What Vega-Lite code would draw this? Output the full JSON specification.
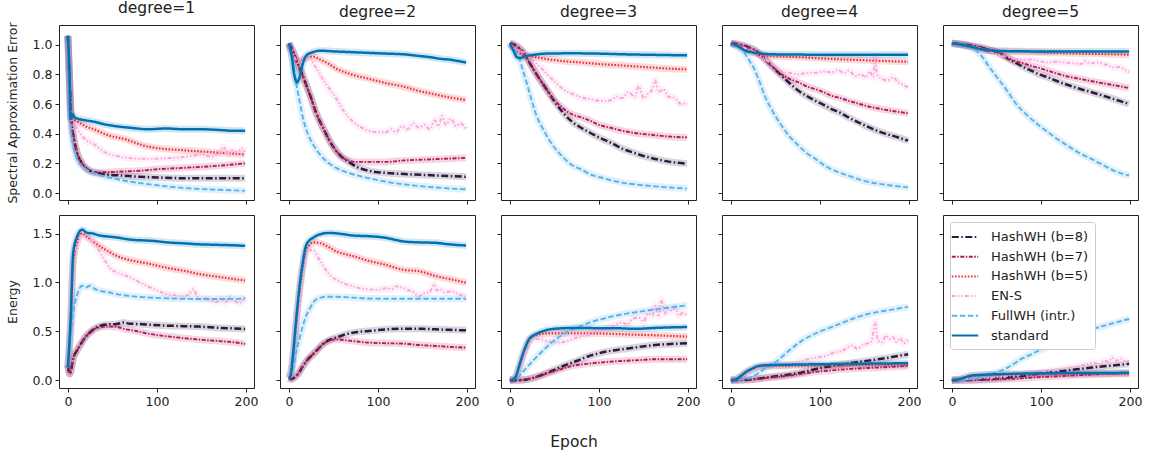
{
"$schema":"https://vega.github.io/schema/vega-lite/v6.json",
"padding":{"left":5,"top":0,"right":2,"bottom":5},
"background":"white",
"title":{"text":"Epoch","orient":"bottom","anchor":"middle","fontSize":15.5,"offset":27,"fontWeight":"normal","color":"#222"},
"datasets":{"d":[
{"p":"a1","s":"b8","e":0,"v":1.06},{"p":"a1","s":"b8","e":2,"v":0.75},{"p":"a1","s":"b8","e":4,"v":0.5},{"p":"a1","s":"b8","e":7,"v":0.36},{"p":"a1","s":"b8","e":11,"v":0.26},{"p":"a1","s":"b8","e":16,"v":0.2},{"p":"a1","s":"b8","e":21,"v":0.165},{"p":"a1","s":"b8","e":30,"v":0.14},{"p":"a1","s":"b8","e":40,"v":0.128},{"p":"a1","s":"b8","e":60,"v":0.118},{"p":"a1","s":"b8","e":80,"v":0.11},{"p":"a1","s":"b8","e":100,"v":0.105},{"p":"a1","s":"b8","e":130,"v":0.1},{"p":"a1","s":"b8","e":160,"v":0.1},{"p":"a1","s":"b8","e":199,"v":0.1},
{"p":"a1","s":"b7","e":0,"v":1.06},{"p":"a1","s":"b7","e":2,"v":0.75},{"p":"a1","s":"b7","e":4,"v":0.5},{"p":"a1","s":"b7","e":7,"v":0.36},{"p":"a1","s":"b7","e":11,"v":0.26},{"p":"a1","s":"b7","e":16,"v":0.2},{"p":"a1","s":"b7","e":21,"v":0.165},{"p":"a1","s":"b7","e":30,"v":0.14},{"p":"a1","s":"b7","e":40,"v":0.14},{"p":"a1","s":"b7","e":60,"v":0.145},{"p":"a1","s":"b7","e":80,"v":0.15},{"p":"a1","s":"b7","e":100,"v":0.16},{"p":"a1","s":"b7","e":130,"v":0.17},{"p":"a1","s":"b7","e":160,"v":0.18},{"p":"a1","s":"b7","e":199,"v":0.2},
{"p":"a1","s":"b5","e":0,"v":1.06},{"p":"a1","s":"b5","e":2,"v":0.7},{"p":"a1","s":"b5","e":4,"v":0.5},{"p":"a1","s":"b5","e":8,"v":0.49},{"p":"a1","s":"b5","e":14,"v":0.47},{"p":"a1","s":"b5","e":20,"v":0.45},{"p":"a1","s":"b5","e":29,"v":0.43},{"p":"a1","s":"b5","e":45,"v":0.39},{"p":"a1","s":"b5","e":66,"v":0.36},{"p":"a1","s":"b5","e":85,"v":0.32},{"p":"a1","s":"b5","e":104,"v":0.3},{"p":"a1","s":"b5","e":126,"v":0.29},{"p":"a1","s":"b5","e":150,"v":0.28},{"p":"a1","s":"b5","e":175,"v":0.27},{"p":"a1","s":"b5","e":199,"v":0.26},
{"p":"a1","s":"en","e":0,"v":1.06},{"p":"a1","s":"en","e":2,"v":0.7},{"p":"a1","s":"en","e":4,"v":0.5},{"p":"a1","s":"en","e":8,"v":0.46},{"p":"a1","s":"en","e":14,"v":0.4},{"p":"a1","s":"en","e":20,"v":0.36},{"p":"a1","s":"en","e":29,"v":0.33},{"p":"a1","s":"en","e":40,"v":0.28},{"p":"a1","s":"en","e":55,"v":0.25},{"p":"a1","s":"en","e":70,"v":0.235},{"p":"a1","s":"en","e":90,"v":0.23},{"p":"a1","s":"en","e":110,"v":0.235},{"p":"a1","s":"en","e":125,"v":0.24},{"p":"a1","s":"en","e":140,"v":0.25},{"p":"a1","s":"en","e":150,"v":0.26},{"p":"a1","s":"en","e":160,"v":0.245},{"p":"a1","s":"en","e":170,"v":0.27},{"p":"a1","s":"en","e":175,"v":0.31},{"p":"a1","s":"en","e":180,"v":0.26},{"p":"a1","s":"en","e":185,"v":0.29},{"p":"a1","s":"en","e":190,"v":0.27},{"p":"a1","s":"en","e":195,"v":0.3},{"p":"a1","s":"en","e":199,"v":0.28},
{"p":"a1","s":"fw","e":0,"v":1.06},{"p":"a1","s":"fw","e":2,"v":0.6},{"p":"a1","s":"fw","e":4,"v":0.4},{"p":"a1","s":"fw","e":6,"v":0.32},{"p":"a1","s":"fw","e":9,"v":0.25},{"p":"a1","s":"fw","e":13,"v":0.2},{"p":"a1","s":"fw","e":18,"v":0.17},{"p":"a1","s":"fw","e":25,"v":0.145},{"p":"a1","s":"fw","e":36,"v":0.12},{"p":"a1","s":"fw","e":50,"v":0.1},{"p":"a1","s":"fw","e":73,"v":0.074},{"p":"a1","s":"fw","e":90,"v":0.06},{"p":"a1","s":"fw","e":111,"v":0.045},{"p":"a1","s":"fw","e":140,"v":0.03},{"p":"a1","s":"fw","e":170,"v":0.022},{"p":"a1","s":"fw","e":199,"v":0.015},
{"p":"a1","s":"st","e":0,"v":1.06},{"p":"a1","s":"st","e":2,"v":0.75},{"p":"a1","s":"st","e":3,"v":0.5},{"p":"a1","s":"st","e":5,"v":0.53},{"p":"a1","s":"st","e":8,"v":0.51},{"p":"a1","s":"st","e":12,"v":0.5},{"p":"a1","s":"st","e":20,"v":0.49},{"p":"a1","s":"st","e":30,"v":0.48},{"p":"a1","s":"st","e":40,"v":0.465},{"p":"a1","s":"st","e":55,"v":0.45},{"p":"a1","s":"st","e":70,"v":0.44},{"p":"a1","s":"st","e":90,"v":0.43},{"p":"a1","s":"st","e":110,"v":0.435},{"p":"a1","s":"st","e":130,"v":0.43},{"p":"a1","s":"st","e":150,"v":0.43},{"p":"a1","s":"st","e":170,"v":0.425},{"p":"a1","s":"st","e":185,"v":0.42},{"p":"a1","s":"st","e":199,"v":0.42},

{"p":"a2","s":"b8","e":0,"v":1.01},{"p":"a2","s":"b8","e":5,"v":0.95},{"p":"a2","s":"b8","e":10,"v":0.87},{"p":"a2","s":"b8","e":15,"v":0.8},{"p":"a2","s":"b8","e":20,"v":0.72},{"p":"a2","s":"b8","e":25,"v":0.64},{"p":"a2","s":"b8","e":30,"v":0.55},{"p":"a2","s":"b8","e":35,"v":0.48},{"p":"a2","s":"b8","e":40,"v":0.42},{"p":"a2","s":"b8","e":45,"v":0.36},{"p":"a2","s":"b8","e":50,"v":0.31},{"p":"a2","s":"b8","e":55,"v":0.27},{"p":"a2","s":"b8","e":60,"v":0.24},{"p":"a2","s":"b8","e":67,"v":0.21},{"p":"a2","s":"b8","e":75,"v":0.18},{"p":"a2","s":"b8","e":90,"v":0.15},{"p":"a2","s":"b8","e":110,"v":0.135},{"p":"a2","s":"b8","e":130,"v":0.128},{"p":"a2","s":"b8","e":160,"v":0.12},{"p":"a2","s":"b8","e":199,"v":0.11},
{"p":"a2","s":"b7","e":0,"v":1.01},{"p":"a2","s":"b7","e":5,"v":0.95},{"p":"a2","s":"b7","e":10,"v":0.87},{"p":"a2","s":"b7","e":15,"v":0.8},{"p":"a2","s":"b7","e":20,"v":0.72},{"p":"a2","s":"b7","e":25,"v":0.64},{"p":"a2","s":"b7","e":30,"v":0.55},{"p":"a2","s":"b7","e":35,"v":0.48},{"p":"a2","s":"b7","e":40,"v":0.42},{"p":"a2","s":"b7","e":45,"v":0.36},{"p":"a2","s":"b7","e":50,"v":0.31},{"p":"a2","s":"b7","e":55,"v":0.27},{"p":"a2","s":"b7","e":60,"v":0.24},{"p":"a2","s":"b7","e":67,"v":0.22},{"p":"a2","s":"b7","e":75,"v":0.21},{"p":"a2","s":"b7","e":90,"v":0.21},{"p":"a2","s":"b7","e":110,"v":0.21},{"p":"a2","s":"b7","e":130,"v":0.22},{"p":"a2","s":"b7","e":150,"v":0.225},{"p":"a2","s":"b7","e":170,"v":0.23},{"p":"a2","s":"b7","e":199,"v":0.237},
{"p":"a2","s":"b5","e":0,"v":1.0},{"p":"a2","s":"b5","e":5,"v":0.93},{"p":"a2","s":"b5","e":10,"v":0.89},{"p":"a2","s":"b5","e":15,"v":0.9},{"p":"a2","s":"b5","e":20,"v":0.91},{"p":"a2","s":"b5","e":27,"v":0.92},{"p":"a2","s":"b5","e":35,"v":0.9},{"p":"a2","s":"b5","e":45,"v":0.87},{"p":"a2","s":"b5","e":53,"v":0.84},{"p":"a2","s":"b5","e":70,"v":0.8},{"p":"a2","s":"b5","e":90,"v":0.77},{"p":"a2","s":"b5","e":110,"v":0.74},{"p":"a2","s":"b5","e":127,"v":0.72},{"p":"a2","s":"b5","e":145,"v":0.69},{"p":"a2","s":"b5","e":164,"v":0.665},{"p":"a2","s":"b5","e":180,"v":0.645},{"p":"a2","s":"b5","e":199,"v":0.627},
{"p":"a2","s":"en","e":0,"v":1.0},{"p":"a2","s":"en","e":5,"v":0.93},{"p":"a2","s":"en","e":10,"v":0.89},{"p":"a2","s":"en","e":15,"v":0.9},{"p":"a2","s":"en","e":22,"v":0.91},{"p":"a2","s":"en","e":30,"v":0.85},{"p":"a2","s":"en","e":40,"v":0.75},{"p":"a2","s":"en","e":53,"v":0.64},{"p":"a2","s":"en","e":62,"v":0.55},{"p":"a2","s":"en","e":72,"v":0.48},{"p":"a2","s":"en","e":82,"v":0.44},{"p":"a2","s":"en","e":90,"v":0.42},{"p":"a2","s":"en","e":100,"v":0.41},{"p":"a2","s":"en","e":109,"v":0.41},{"p":"a2","s":"en","e":115,"v":0.43},{"p":"a2","s":"en","e":120,"v":0.41},{"p":"a2","s":"en","e":127,"v":0.45},{"p":"a2","s":"en","e":133,"v":0.43},{"p":"a2","s":"en","e":140,"v":0.47},{"p":"a2","s":"en","e":146,"v":0.44},{"p":"a2","s":"en","e":152,"v":0.46},{"p":"a2","s":"en","e":158,"v":0.43},{"p":"a2","s":"en","e":164,"v":0.49},{"p":"a2","s":"en","e":168,"v":0.45},{"p":"a2","s":"en","e":172,"v":0.52},{"p":"a2","s":"en","e":176,"v":0.46},{"p":"a2","s":"en","e":182,"v":0.5},{"p":"a2","s":"en","e":188,"v":0.45},{"p":"a2","s":"en","e":192,"v":0.47},{"p":"a2","s":"en","e":199,"v":0.43},
{"p":"a2","s":"fw","e":0,"v":1.01},{"p":"a2","s":"fw","e":3,"v":0.93},{"p":"a2","s":"fw","e":5,"v":0.87},{"p":"a2","s":"fw","e":8,"v":0.75},{"p":"a2","s":"fw","e":12,"v":0.62},{"p":"a2","s":"fw","e":16,"v":0.5},{"p":"a2","s":"fw","e":20,"v":0.42},{"p":"a2","s":"fw","e":27,"v":0.33},{"p":"a2","s":"fw","e":35,"v":0.26},{"p":"a2","s":"fw","e":45,"v":0.2},{"p":"a2","s":"fw","e":53,"v":0.17},{"p":"a2","s":"fw","e":70,"v":0.13},{"p":"a2","s":"fw","e":90,"v":0.1},{"p":"a2","s":"fw","e":110,"v":0.075},{"p":"a2","s":"fw","e":127,"v":0.06},{"p":"a2","s":"fw","e":150,"v":0.045},{"p":"a2","s":"fw","e":175,"v":0.033},{"p":"a2","s":"fw","e":199,"v":0.025},
{"p":"a2","s":"st","e":0,"v":1.01},{"p":"a2","s":"st","e":3,"v":0.93},{"p":"a2","s":"st","e":6,"v":0.8},{"p":"a2","s":"st","e":9,"v":0.746},{"p":"a2","s":"st","e":12,"v":0.78},{"p":"a2","s":"st","e":16,"v":0.88},{"p":"a2","s":"st","e":20,"v":0.93},{"p":"a2","s":"st","e":27,"v":0.95},{"p":"a2","s":"st","e":35,"v":0.96},{"p":"a2","s":"st","e":50,"v":0.955},{"p":"a2","s":"st","e":70,"v":0.95},{"p":"a2","s":"st","e":90,"v":0.945},{"p":"a2","s":"st","e":110,"v":0.94},{"p":"a2","s":"st","e":130,"v":0.935},{"p":"a2","s":"st","e":145,"v":0.925},{"p":"a2","s":"st","e":160,"v":0.915},{"p":"a2","s":"st","e":170,"v":0.905},{"p":"a2","s":"st","e":180,"v":0.9},{"p":"a2","s":"st","e":190,"v":0.89},{"p":"a2","s":"st","e":199,"v":0.88},

{"p":"a3","s":"b8","e":0,"v":1.01},{"p":"a3","s":"b8","e":5,"v":1.0},{"p":"a3","s":"b8","e":10,"v":0.98},{"p":"a3","s":"b8","e":15,"v":0.95},{"p":"a3","s":"b8","e":20,"v":0.9},{"p":"a3","s":"b8","e":30,"v":0.8},{"p":"a3","s":"b8","e":40,"v":0.71},{"p":"a3","s":"b8","e":51,"v":0.61},{"p":"a3","s":"b8","e":60,"v":0.54},{"p":"a3","s":"b8","e":70,"v":0.48},{"p":"a3","s":"b8","e":80,"v":0.44},{"p":"a3","s":"b8","e":89,"v":0.41},{"p":"a3","s":"b8","e":100,"v":0.375},{"p":"a3","s":"b8","e":113,"v":0.34},{"p":"a3","s":"b8","e":126,"v":0.3},{"p":"a3","s":"b8","e":140,"v":0.27},{"p":"a3","s":"b8","e":150,"v":0.25},{"p":"a3","s":"b8","e":163,"v":0.23},{"p":"a3","s":"b8","e":180,"v":0.21},{"p":"a3","s":"b8","e":199,"v":0.198},
{"p":"a3","s":"b7","e":0,"v":1.01},{"p":"a3","s":"b7","e":5,"v":1.0},{"p":"a3","s":"b7","e":10,"v":0.98},{"p":"a3","s":"b7","e":15,"v":0.95},{"p":"a3","s":"b7","e":20,"v":0.9},{"p":"a3","s":"b7","e":30,"v":0.8},{"p":"a3","s":"b7","e":40,"v":0.71},{"p":"a3","s":"b7","e":51,"v":0.62},{"p":"a3","s":"b7","e":60,"v":0.57},{"p":"a3","s":"b7","e":70,"v":0.53},{"p":"a3","s":"b7","e":80,"v":0.51},{"p":"a3","s":"b7","e":89,"v":0.49},{"p":"a3","s":"b7","e":100,"v":0.46},{"p":"a3","s":"b7","e":113,"v":0.44},{"p":"a3","s":"b7","e":126,"v":0.42},{"p":"a3","s":"b7","e":140,"v":0.405},{"p":"a3","s":"b7","e":163,"v":0.39},{"p":"a3","s":"b7","e":180,"v":0.38},{"p":"a3","s":"b7","e":199,"v":0.375},
{"p":"a3","s":"b5","e":0,"v":1.0},{"p":"a3","s":"b5","e":5,"v":0.98},{"p":"a3","s":"b5","e":10,"v":0.95},{"p":"a3","s":"b5","e":15,"v":0.93},{"p":"a3","s":"b5","e":25,"v":0.92},{"p":"a3","s":"b5","e":40,"v":0.905},{"p":"a3","s":"b5","e":59,"v":0.89},{"p":"a3","s":"b5","e":80,"v":0.88},{"p":"a3","s":"b5","e":100,"v":0.87},{"p":"a3","s":"b5","e":126,"v":0.86},{"p":"a3","s":"b5","e":150,"v":0.85},{"p":"a3","s":"b5","e":175,"v":0.84},{"p":"a3","s":"b5","e":199,"v":0.834},
{"p":"a3","s":"en","e":0,"v":1.0},{"p":"a3","s":"en","e":5,"v":0.98},{"p":"a3","s":"en","e":10,"v":0.96},{"p":"a3","s":"en","e":15,"v":0.95},{"p":"a3","s":"en","e":25,"v":0.9},{"p":"a3","s":"en","e":36,"v":0.836},{"p":"a3","s":"en","e":45,"v":0.78},{"p":"a3","s":"en","e":51,"v":0.747},{"p":"a3","s":"en","e":60,"v":0.7},{"p":"a3","s":"en","e":70,"v":0.668},{"p":"a3","s":"en","e":80,"v":0.645},{"p":"a3","s":"en","e":89,"v":0.634},{"p":"a3","s":"en","e":100,"v":0.622},{"p":"a3","s":"en","e":107,"v":0.62},{"p":"a3","s":"en","e":115,"v":0.63},{"p":"a3","s":"en","e":120,"v":0.65},{"p":"a3","s":"en","e":126,"v":0.64},{"p":"a3","s":"en","e":133,"v":0.68},{"p":"a3","s":"en","e":140,"v":0.65},{"p":"a3","s":"en","e":145,"v":0.72},{"p":"a3","s":"en","e":150,"v":0.64},{"p":"a3","s":"en","e":155,"v":0.67},{"p":"a3","s":"en","e":160,"v":0.7},{"p":"a3","s":"en","e":163,"v":0.76},{"p":"a3","s":"en","e":167,"v":0.68},{"p":"a3","s":"en","e":172,"v":0.7},{"p":"a3","s":"en","e":178,"v":0.65},{"p":"a3","s":"en","e":185,"v":0.64},{"p":"a3","s":"en","e":192,"v":0.6},{"p":"a3","s":"en","e":199,"v":0.61},
{"p":"a3","s":"fw","e":0,"v":1.01},{"p":"a3","s":"fw","e":5,"v":0.97},{"p":"a3","s":"fw","e":10,"v":0.92},{"p":"a3","s":"fw","e":15,"v":0.82},{"p":"a3","s":"fw","e":20,"v":0.72},{"p":"a3","s":"fw","e":25,"v":0.613},{"p":"a3","s":"fw","e":30,"v":0.52},{"p":"a3","s":"fw","e":37,"v":0.434},{"p":"a3","s":"fw","e":44,"v":0.36},{"p":"a3","s":"fw","e":51,"v":0.3},{"p":"a3","s":"fw","e":60,"v":0.24},{"p":"a3","s":"fw","e":70,"v":0.187},{"p":"a3","s":"fw","e":80,"v":0.16},{"p":"a3","s":"fw","e":89,"v":0.13},{"p":"a3","s":"fw","e":105,"v":0.1},{"p":"a3","s":"fw","e":126,"v":0.07},{"p":"a3","s":"fw","e":145,"v":0.055},{"p":"a3","s":"fw","e":163,"v":0.045},{"p":"a3","s":"fw","e":180,"v":0.037},{"p":"a3","s":"fw","e":199,"v":0.03},
{"p":"a3","s":"st","e":0,"v":1.01},{"p":"a3","s":"st","e":4,"v":0.96},{"p":"a3","s":"st","e":8,"v":0.915},{"p":"a3","s":"st","e":12,"v":0.91},{"p":"a3","s":"st","e":16,"v":0.92},{"p":"a3","s":"st","e":25,"v":0.93},{"p":"a3","s":"st","e":40,"v":0.94},{"p":"a3","s":"st","e":70,"v":0.942},{"p":"a3","s":"st","e":100,"v":0.94},{"p":"a3","s":"st","e":130,"v":0.935},{"p":"a3","s":"st","e":160,"v":0.932},{"p":"a3","s":"st","e":180,"v":0.93},{"p":"a3","s":"st","e":199,"v":0.928},

{"p":"a4","s":"b8","e":0,"v":1.01},{"p":"a4","s":"b8","e":10,"v":1.0},{"p":"a4","s":"b8","e":20,"v":0.982},{"p":"a4","s":"b8","e":30,"v":0.95},{"p":"a4","s":"b8","e":38,"v":0.903},{"p":"a4","s":"b8","e":47,"v":0.85},{"p":"a4","s":"b8","e":57,"v":0.791},{"p":"a4","s":"b8","e":66,"v":0.74},{"p":"a4","s":"b8","e":76,"v":0.69},{"p":"a4","s":"b8","e":85,"v":0.655},{"p":"a4","s":"b8","e":95,"v":0.622},{"p":"a4","s":"b8","e":104,"v":0.595},{"p":"a4","s":"b8","e":113,"v":0.566},{"p":"a4","s":"b8","e":123,"v":0.54},{"p":"a4","s":"b8","e":132,"v":0.51},{"p":"a4","s":"b8","e":142,"v":0.48},{"p":"a4","s":"b8","e":151,"v":0.454},{"p":"a4","s":"b8","e":160,"v":0.43},{"p":"a4","s":"b8","e":169,"v":0.409},{"p":"a4","s":"b8","e":185,"v":0.38},{"p":"a4","s":"b8","e":199,"v":0.353},
{"p":"a4","s":"b7","e":0,"v":1.01},{"p":"a4","s":"b7","e":10,"v":1.0},{"p":"a4","s":"b7","e":20,"v":0.982},{"p":"a4","s":"b7","e":30,"v":0.95},{"p":"a4","s":"b7","e":38,"v":0.903},{"p":"a4","s":"b7","e":47,"v":0.85},{"p":"a4","s":"b7","e":57,"v":0.8},{"p":"a4","s":"b7","e":66,"v":0.77},{"p":"a4","s":"b7","e":76,"v":0.746},{"p":"a4","s":"b7","e":85,"v":0.72},{"p":"a4","s":"b7","e":95,"v":0.7},{"p":"a4","s":"b7","e":104,"v":0.68},{"p":"a4","s":"b7","e":113,"v":0.656},{"p":"a4","s":"b7","e":123,"v":0.64},{"p":"a4","s":"b7","e":132,"v":0.622},{"p":"a4","s":"b7","e":142,"v":0.605},{"p":"a4","s":"b7","e":151,"v":0.589},{"p":"a4","s":"b7","e":169,"v":0.566},{"p":"a4","s":"b7","e":185,"v":0.55},{"p":"a4","s":"b7","e":199,"v":0.537},
{"p":"a4","s":"b5","e":0,"v":1.01},{"p":"a4","s":"b5","e":10,"v":0.99},{"p":"a4","s":"b5","e":20,"v":0.96},{"p":"a4","s":"b5","e":30,"v":0.935},{"p":"a4","s":"b5","e":40,"v":0.926},{"p":"a4","s":"b5","e":60,"v":0.92},{"p":"a4","s":"b5","e":80,"v":0.915},{"p":"a4","s":"b5","e":100,"v":0.908},{"p":"a4","s":"b5","e":130,"v":0.9},{"p":"a4","s":"b5","e":160,"v":0.893},{"p":"a4","s":"b5","e":199,"v":0.885},
{"p":"a4","s":"en","e":0,"v":1.01},{"p":"a4","s":"en","e":10,"v":0.99},{"p":"a4","s":"en","e":20,"v":0.97},{"p":"a4","s":"en","e":30,"v":0.94},{"p":"a4","s":"en","e":38,"v":0.903},{"p":"a4","s":"en","e":48,"v":0.86},{"p":"a4","s":"en","e":57,"v":0.825},{"p":"a4","s":"en","e":66,"v":0.81},{"p":"a4","s":"en","e":76,"v":0.8},{"p":"a4","s":"en","e":85,"v":0.81},{"p":"a4","s":"en","e":95,"v":0.81},{"p":"a4","s":"en","e":104,"v":0.82},{"p":"a4","s":"en","e":113,"v":0.813},{"p":"a4","s":"en","e":120,"v":0.83},{"p":"a4","s":"en","e":127,"v":0.81},{"p":"a4","s":"en","e":132,"v":0.825},{"p":"a4","s":"en","e":140,"v":0.79},{"p":"a4","s":"en","e":146,"v":0.8},{"p":"a4","s":"en","e":152,"v":0.78},{"p":"a4","s":"en","e":156,"v":0.82},{"p":"a4","s":"en","e":160,"v":0.78},{"p":"a4","s":"en","e":162,"v":0.92},{"p":"a4","s":"en","e":164,"v":0.8},{"p":"a4","s":"en","e":170,"v":0.77},{"p":"a4","s":"en","e":176,"v":0.76},{"p":"a4","s":"en","e":182,"v":0.78},{"p":"a4","s":"en","e":188,"v":0.746},{"p":"a4","s":"en","e":193,"v":0.73},{"p":"a4","s":"en","e":199,"v":0.712},
{"p":"a4","s":"fw","e":0,"v":1.01},{"p":"a4","s":"fw","e":6,"v":0.99},{"p":"a4","s":"fw","e":12,"v":0.97},{"p":"a4","s":"fw","e":20,"v":0.9},{"p":"a4","s":"fw","e":26,"v":0.84},{"p":"a4","s":"fw","e":31,"v":0.77},{"p":"a4","s":"fw","e":38,"v":0.656},{"p":"a4","s":"fw","e":47,"v":0.55},{"p":"a4","s":"fw","e":57,"v":0.454},{"p":"a4","s":"fw","e":66,"v":0.38},{"p":"a4","s":"fw","e":76,"v":0.32},{"p":"a4","s":"fw","e":85,"v":0.27},{"p":"a4","s":"fw","e":95,"v":0.23},{"p":"a4","s":"fw","e":104,"v":0.19},{"p":"a4","s":"fw","e":113,"v":0.16},{"p":"a4","s":"fw","e":123,"v":0.135},{"p":"a4","s":"fw","e":132,"v":0.117},{"p":"a4","s":"fw","e":142,"v":0.095},{"p":"a4","s":"fw","e":151,"v":0.08},{"p":"a4","s":"fw","e":169,"v":0.06},{"p":"a4","s":"fw","e":185,"v":0.047},{"p":"a4","s":"fw","e":199,"v":0.038},
{"p":"a4","s":"st","e":0,"v":1.01},{"p":"a4","s":"st","e":8,"v":0.99},{"p":"a4","s":"st","e":16,"v":0.96},{"p":"a4","s":"st","e":25,"v":0.948},{"p":"a4","s":"st","e":35,"v":0.94},{"p":"a4","s":"st","e":50,"v":0.935},{"p":"a4","s":"st","e":100,"v":0.933},{"p":"a4","s":"st","e":150,"v":0.933},{"p":"a4","s":"st","e":199,"v":0.933},

{"p":"a5","s":"b8","e":0,"v":1.01},{"p":"a5","s":"b8","e":15,"v":1.0},{"p":"a5","s":"b8","e":33,"v":0.98},{"p":"a5","s":"b8","e":45,"v":0.96},{"p":"a5","s":"b8","e":52,"v":0.948},{"p":"a5","s":"b8","e":62,"v":0.91},{"p":"a5","s":"b8","e":71,"v":0.88},{"p":"a5","s":"b8","e":80,"v":0.85},{"p":"a5","s":"b8","e":89,"v":0.825},{"p":"a5","s":"b8","e":98,"v":0.8},{"p":"a5","s":"b8","e":108,"v":0.78},{"p":"a5","s":"b8","e":117,"v":0.757},{"p":"a5","s":"b8","e":127,"v":0.735},{"p":"a5","s":"b8","e":136,"v":0.717},{"p":"a5","s":"b8","e":145,"v":0.7},{"p":"a5","s":"b8","e":155,"v":0.683},{"p":"a5","s":"b8","e":164,"v":0.667},{"p":"a5","s":"b8","e":182,"v":0.633},{"p":"a5","s":"b8","e":199,"v":0.6},
{"p":"a5","s":"b7","e":0,"v":1.01},{"p":"a5","s":"b7","e":15,"v":1.0},{"p":"a5","s":"b7","e":33,"v":0.98},{"p":"a5","s":"b7","e":45,"v":0.96},{"p":"a5","s":"b7","e":52,"v":0.948},{"p":"a5","s":"b7","e":62,"v":0.915},{"p":"a5","s":"b7","e":71,"v":0.89},{"p":"a5","s":"b7","e":80,"v":0.875},{"p":"a5","s":"b7","e":89,"v":0.858},{"p":"a5","s":"b7","e":100,"v":0.84},{"p":"a5","s":"b7","e":110,"v":0.82},{"p":"a5","s":"b7","e":127,"v":0.79},{"p":"a5","s":"b7","e":145,"v":0.768},{"p":"a5","s":"b7","e":164,"v":0.746},{"p":"a5","s":"b7","e":182,"v":0.727},{"p":"a5","s":"b7","e":199,"v":0.708},
{"p":"a5","s":"b5","e":0,"v":1.01},{"p":"a5","s":"b5","e":20,"v":0.99},{"p":"a5","s":"b5","e":40,"v":0.96},{"p":"a5","s":"b5","e":70,"v":0.955},{"p":"a5","s":"b5","e":100,"v":0.948},{"p":"a5","s":"b5","e":150,"v":0.94},{"p":"a5","s":"b5","e":199,"v":0.933},
{"p":"a5","s":"en","e":0,"v":1.01},{"p":"a5","s":"en","e":20,"v":0.99},{"p":"a5","s":"en","e":30,"v":0.98},{"p":"a5","s":"en","e":45,"v":0.95},{"p":"a5","s":"en","e":60,"v":0.92},{"p":"a5","s":"en","e":71,"v":0.903},{"p":"a5","s":"en","e":80,"v":0.9},{"p":"a5","s":"en","e":89,"v":0.9},{"p":"a5","s":"en","e":98,"v":0.89},{"p":"a5","s":"en","e":108,"v":0.88},{"p":"a5","s":"en","e":117,"v":0.885},{"p":"a5","s":"en","e":127,"v":0.88},{"p":"a5","s":"en","e":136,"v":0.875},{"p":"a5","s":"en","e":145,"v":0.87},{"p":"a5","s":"en","e":150,"v":0.89},{"p":"a5","s":"en","e":155,"v":0.875},{"p":"a5","s":"en","e":164,"v":0.88},{"p":"a5","s":"en","e":170,"v":0.87},{"p":"a5","s":"en","e":176,"v":0.86},{"p":"a5","s":"en","e":182,"v":0.847},{"p":"a5","s":"en","e":188,"v":0.85},{"p":"a5","s":"en","e":194,"v":0.83},{"p":"a5","s":"en","e":199,"v":0.813},
{"p":"a5","s":"fw","e":0,"v":1.01},{"p":"a5","s":"fw","e":10,"v":1.0},{"p":"a5","s":"fw","e":22,"v":0.98},{"p":"a5","s":"fw","e":33,"v":0.926},{"p":"a5","s":"fw","e":42,"v":0.85},{"p":"a5","s":"fw","e":52,"v":0.77},{"p":"a5","s":"fw","e":62,"v":0.69},{"p":"a5","s":"fw","e":71,"v":0.61},{"p":"a5","s":"fw","e":80,"v":0.55},{"p":"a5","s":"fw","e":89,"v":0.5},{"p":"a5","s":"fw","e":98,"v":0.455},{"p":"a5","s":"fw","e":108,"v":0.41},{"p":"a5","s":"fw","e":117,"v":0.37},{"p":"a5","s":"fw","e":127,"v":0.33},{"p":"a5","s":"fw","e":136,"v":0.295},{"p":"a5","s":"fw","e":145,"v":0.263},{"p":"a5","s":"fw","e":155,"v":0.235},{"p":"a5","s":"fw","e":164,"v":0.207},{"p":"a5","s":"fw","e":173,"v":0.178},{"p":"a5","s":"fw","e":182,"v":0.15},{"p":"a5","s":"fw","e":190,"v":0.133},{"p":"a5","s":"fw","e":199,"v":0.117},
{"p":"a5","s":"st","e":0,"v":1.01},{"p":"a5","s":"st","e":15,"v":0.995},{"p":"a5","s":"st","e":30,"v":0.975},{"p":"a5","s":"st","e":40,"v":0.962},{"p":"a5","s":"st","e":60,"v":0.957},{"p":"a5","s":"st","e":100,"v":0.955},{"p":"a5","s":"st","e":150,"v":0.955},{"p":"a5","s":"st","e":199,"v":0.955},

{"p":"b1","s":"b8","e":0,"v":0.15},{"p":"b1","s":"b8","e":2,"v":0.065},{"p":"b1","s":"b8","e":4,"v":0.12},{"p":"b1","s":"b8","e":6,"v":0.22},{"p":"b1","s":"b8","e":10,"v":0.3},{"p":"b1","s":"b8","e":14,"v":0.36},{"p":"b1","s":"b8","e":18,"v":0.42},{"p":"b1","s":"b8","e":21,"v":0.456},{"p":"b1","s":"b8","e":25,"v":0.49},{"p":"b1","s":"b8","e":29,"v":0.52},{"p":"b1","s":"b8","e":36,"v":0.555},{"p":"b1","s":"b8","e":45,"v":0.57},{"p":"b1","s":"b8","e":55,"v":0.575},{"p":"b1","s":"b8","e":62,"v":0.59},{"p":"b1","s":"b8","e":70,"v":0.578},{"p":"b1","s":"b8","e":80,"v":0.575},{"p":"b1","s":"b8","e":95,"v":0.565},{"p":"b1","s":"b8","e":111,"v":0.558},{"p":"b1","s":"b8","e":130,"v":0.553},{"p":"b1","s":"b8","e":148,"v":0.548},{"p":"b1","s":"b8","e":170,"v":0.535},{"p":"b1","s":"b8","e":186,"v":0.53},{"p":"b1","s":"b8","e":199,"v":0.524},
{"p":"b1","s":"b7","e":0,"v":0.15},{"p":"b1","s":"b7","e":2,"v":0.065},{"p":"b1","s":"b7","e":4,"v":0.12},{"p":"b1","s":"b7","e":6,"v":0.22},{"p":"b1","s":"b7","e":10,"v":0.3},{"p":"b1","s":"b7","e":14,"v":0.36},{"p":"b1","s":"b7","e":18,"v":0.42},{"p":"b1","s":"b7","e":21,"v":0.456},{"p":"b1","s":"b7","e":25,"v":0.49},{"p":"b1","s":"b7","e":29,"v":0.52},{"p":"b1","s":"b7","e":36,"v":0.54},{"p":"b1","s":"b7","e":45,"v":0.55},{"p":"b1","s":"b7","e":55,"v":0.545},{"p":"b1","s":"b7","e":65,"v":0.52},{"p":"b1","s":"b7","e":74,"v":0.507},{"p":"b1","s":"b7","e":92,"v":0.473},{"p":"b1","s":"b7","e":111,"v":0.449},{"p":"b1","s":"b7","e":130,"v":0.43},{"p":"b1","s":"b7","e":148,"v":0.415},{"p":"b1","s":"b7","e":170,"v":0.4},{"p":"b1","s":"b7","e":186,"v":0.388},{"p":"b1","s":"b7","e":199,"v":0.371},
{"p":"b1","s":"b5","e":0,"v":0.13},{"p":"b1","s":"b5","e":3,"v":0.55},{"p":"b1","s":"b5","e":6,"v":1.2},{"p":"b1","s":"b5","e":10,"v":1.4},{"p":"b1","s":"b5","e":16,"v":1.5},{"p":"b1","s":"b5","e":21,"v":1.47},{"p":"b1","s":"b5","e":28,"v":1.42},{"p":"b1","s":"b5","e":36,"v":1.37},{"p":"b1","s":"b5","e":45,"v":1.32},{"p":"b1","s":"b5","e":55,"v":1.27},{"p":"b1","s":"b5","e":65,"v":1.24},{"p":"b1","s":"b5","e":74,"v":1.22},{"p":"b1","s":"b5","e":92,"v":1.19},{"p":"b1","s":"b5","e":111,"v":1.15},{"p":"b1","s":"b5","e":130,"v":1.12},{"p":"b1","s":"b5","e":148,"v":1.085},{"p":"b1","s":"b5","e":167,"v":1.06},{"p":"b1","s":"b5","e":186,"v":1.035},{"p":"b1","s":"b5","e":199,"v":1.02},
{"p":"b1","s":"en","e":0,"v":0.13},{"p":"b1","s":"en","e":3,"v":0.55},{"p":"b1","s":"en","e":6,"v":1.2},{"p":"b1","s":"en","e":10,"v":1.4},{"p":"b1","s":"en","e":16,"v":1.48},{"p":"b1","s":"en","e":22,"v":1.46},{"p":"b1","s":"en","e":29,"v":1.41},{"p":"b1","s":"en","e":36,"v":1.31},{"p":"b1","s":"en","e":42,"v":1.22},{"p":"b1","s":"en","e":47,"v":1.15},{"p":"b1","s":"en","e":55,"v":1.1},{"p":"b1","s":"en","e":65,"v":1.07},{"p":"b1","s":"en","e":74,"v":1.034},{"p":"b1","s":"en","e":83,"v":0.99},{"p":"b1","s":"en","e":92,"v":0.95},{"p":"b1","s":"en","e":100,"v":0.92},{"p":"b1","s":"en","e":111,"v":0.88},{"p":"b1","s":"en","e":120,"v":0.87},{"p":"b1","s":"en","e":130,"v":0.86},{"p":"b1","s":"en","e":136,"v":0.88},{"p":"b1","s":"en","e":141,"v":0.93},{"p":"b1","s":"en","e":145,"v":0.86},{"p":"b1","s":"en","e":148,"v":0.83},{"p":"b1","s":"en","e":155,"v":0.84},{"p":"b1","s":"en","e":160,"v":0.82},{"p":"b1","s":"en","e":167,"v":0.8},{"p":"b1","s":"en","e":172,"v":0.84},{"p":"b1","s":"en","e":177,"v":0.8},{"p":"b1","s":"en","e":182,"v":0.85},{"p":"b1","s":"en","e":186,"v":0.82},{"p":"b1","s":"en","e":192,"v":0.79},{"p":"b1","s":"en","e":199,"v":0.85},
{"p":"b1","s":"fw","e":0,"v":0.13},{"p":"b1","s":"fw","e":3,"v":0.45},{"p":"b1","s":"fw","e":6,"v":0.7},{"p":"b1","s":"fw","e":10,"v":0.86},{"p":"b1","s":"fw","e":16,"v":0.966},{"p":"b1","s":"fw","e":20,"v":0.95},{"p":"b1","s":"fw","e":25,"v":0.966},{"p":"b1","s":"fw","e":30,"v":0.935},{"p":"b1","s":"fw","e":36,"v":0.915},{"p":"b1","s":"fw","e":45,"v":0.9},{"p":"b1","s":"fw","e":55,"v":0.88},{"p":"b1","s":"fw","e":74,"v":0.857},{"p":"b1","s":"fw","e":92,"v":0.845},{"p":"b1","s":"fw","e":111,"v":0.837},{"p":"b1","s":"fw","e":130,"v":0.833},{"p":"b1","s":"fw","e":148,"v":0.83},{"p":"b1","s":"fw","e":170,"v":0.83},{"p":"b1","s":"fw","e":199,"v":0.835},
{"p":"b1","s":"st","e":0,"v":0.13},{"p":"b1","s":"st","e":3,"v":0.6},{"p":"b1","s":"st","e":6,"v":1.3},{"p":"b1","s":"st","e":10,"v":1.46},{"p":"b1","s":"st","e":16,"v":1.54},{"p":"b1","s":"st","e":21,"v":1.51},{"p":"b1","s":"st","e":28,"v":1.5},{"p":"b1","s":"st","e":36,"v":1.48},{"p":"b1","s":"st","e":45,"v":1.47},{"p":"b1","s":"st","e":55,"v":1.46},{"p":"b1","s":"st","e":65,"v":1.445},{"p":"b1","s":"st","e":74,"v":1.435},{"p":"b1","s":"st","e":85,"v":1.43},{"p":"b1","s":"st","e":96,"v":1.425},{"p":"b1","s":"st","e":111,"v":1.41},{"p":"b1","s":"st","e":130,"v":1.4},{"p":"b1","s":"st","e":148,"v":1.39},{"p":"b1","s":"st","e":167,"v":1.385},{"p":"b1","s":"st","e":186,"v":1.38},{"p":"b1","s":"st","e":199,"v":1.374},

{"p":"b2","s":"b8","e":0,"v":0.02},{"p":"b2","s":"b8","e":3,"v":0.01},{"p":"b2","s":"b8","e":6,"v":0.025},{"p":"b2","s":"b8","e":10,"v":0.06},{"p":"b2","s":"b8","e":16,"v":0.146},{"p":"b2","s":"b8","e":21,"v":0.21},{"p":"b2","s":"b8","e":27,"v":0.265},{"p":"b2","s":"b8","e":33,"v":0.32},{"p":"b2","s":"b8","e":38,"v":0.367},{"p":"b2","s":"b8","e":45,"v":0.41},{"p":"b2","s":"b8","e":53,"v":0.435},{"p":"b2","s":"b8","e":62,"v":0.465},{"p":"b2","s":"b8","e":72,"v":0.486},{"p":"b2","s":"b8","e":81,"v":0.497},{"p":"b2","s":"b8","e":90,"v":0.503},{"p":"b2","s":"b8","e":109,"v":0.52},{"p":"b2","s":"b8","e":128,"v":0.527},{"p":"b2","s":"b8","e":150,"v":0.525},{"p":"b2","s":"b8","e":165,"v":0.52},{"p":"b2","s":"b8","e":180,"v":0.515},{"p":"b2","s":"b8","e":199,"v":0.51},
{"p":"b2","s":"b7","e":0,"v":0.02},{"p":"b2","s":"b7","e":3,"v":0.01},{"p":"b2","s":"b7","e":6,"v":0.025},{"p":"b2","s":"b7","e":10,"v":0.06},{"p":"b2","s":"b7","e":16,"v":0.146},{"p":"b2","s":"b7","e":21,"v":0.21},{"p":"b2","s":"b7","e":27,"v":0.265},{"p":"b2","s":"b7","e":33,"v":0.32},{"p":"b2","s":"b7","e":38,"v":0.367},{"p":"b2","s":"b7","e":45,"v":0.4},{"p":"b2","s":"b7","e":53,"v":0.418},{"p":"b2","s":"b7","e":62,"v":0.41},{"p":"b2","s":"b7","e":72,"v":0.4},{"p":"b2","s":"b7","e":90,"v":0.384},{"p":"b2","s":"b7","e":109,"v":0.378},{"p":"b2","s":"b7","e":128,"v":0.374},{"p":"b2","s":"b7","e":146,"v":0.36},{"p":"b2","s":"b7","e":165,"v":0.35},{"p":"b2","s":"b7","e":183,"v":0.34},{"p":"b2","s":"b7","e":199,"v":0.333},
{"p":"b2","s":"b5","e":0,"v":0.02},{"p":"b2","s":"b5","e":4.5,"v":0.2},{"p":"b2","s":"b5","e":8,"v":0.55},{"p":"b2","s":"b5","e":12,"v":0.9},{"p":"b2","s":"b5","e":16,"v":1.18},{"p":"b2","s":"b5","e":19,"v":1.33},{"p":"b2","s":"b5","e":23,"v":1.38},{"p":"b2","s":"b5","e":27,"v":1.41},{"p":"b2","s":"b5","e":34,"v":1.405},{"p":"b2","s":"b5","e":45,"v":1.36},{"p":"b2","s":"b5","e":53,"v":1.32},{"p":"b2","s":"b5","e":72,"v":1.27},{"p":"b2","s":"b5","e":90,"v":1.22},{"p":"b2","s":"b5","e":109,"v":1.18},{"p":"b2","s":"b5","e":128,"v":1.13},{"p":"b2","s":"b5","e":146,"v":1.115},{"p":"b2","s":"b5","e":165,"v":1.065},{"p":"b2","s":"b5","e":183,"v":1.03},{"p":"b2","s":"b5","e":199,"v":0.997},
{"p":"b2","s":"en","e":0,"v":0.02},{"p":"b2","s":"en","e":4.5,"v":0.2},{"p":"b2","s":"en","e":8,"v":0.55},{"p":"b2","s":"en","e":12,"v":0.9},{"p":"b2","s":"en","e":16,"v":1.18},{"p":"b2","s":"en","e":19,"v":1.3},{"p":"b2","s":"en","e":23,"v":1.33},{"p":"b2","s":"en","e":27,"v":1.33},{"p":"b2","s":"en","e":34,"v":1.235},{"p":"b2","s":"en","e":40,"v":1.15},{"p":"b2","s":"en","e":45.5,"v":1.08},{"p":"b2","s":"en","e":53,"v":1.03},{"p":"b2","s":"en","e":62,"v":0.99},{"p":"b2","s":"en","e":72,"v":0.96},{"p":"b2","s":"en","e":81,"v":0.94},{"p":"b2","s":"en","e":90,"v":0.93},{"p":"b2","s":"en","e":100,"v":0.925},{"p":"b2","s":"en","e":109,"v":0.94},{"p":"b2","s":"en","e":115,"v":0.93},{"p":"b2","s":"en","e":120,"v":0.96},{"p":"b2","s":"en","e":128,"v":0.945},{"p":"b2","s":"en","e":135,"v":0.92},{"p":"b2","s":"en","e":140,"v":0.9},{"p":"b2","s":"en","e":146,"v":0.86},{"p":"b2","s":"en","e":152,"v":0.89},{"p":"b2","s":"en","e":158,"v":0.9},{"p":"b2","s":"en","e":163,"v":0.98},{"p":"b2","s":"en","e":166,"v":0.92},{"p":"b2","s":"en","e":170,"v":0.93},{"p":"b2","s":"en","e":175,"v":0.9},{"p":"b2","s":"en","e":183,"v":0.91},{"p":"b2","s":"en","e":190,"v":0.88},{"p":"b2","s":"en","e":199,"v":0.86},
{"p":"b2","s":"fw","e":0,"v":0.02},{"p":"b2","s":"fw","e":4,"v":0.1},{"p":"b2","s":"fw","e":8,"v":0.28},{"p":"b2","s":"fw","e":12,"v":0.43},{"p":"b2","s":"fw","e":15.7,"v":0.554},{"p":"b2","s":"fw","e":19,"v":0.65},{"p":"b2","s":"fw","e":23,"v":0.724},{"p":"b2","s":"fw","e":27,"v":0.79},{"p":"b2","s":"fw","e":30.6,"v":0.826},{"p":"b2","s":"fw","e":36,"v":0.845},{"p":"b2","s":"fw","e":42,"v":0.854},{"p":"b2","s":"fw","e":53,"v":0.853},{"p":"b2","s":"fw","e":72,"v":0.845},{"p":"b2","s":"fw","e":90,"v":0.835},{"p":"b2","s":"fw","e":120,"v":0.833},{"p":"b2","s":"fw","e":150,"v":0.833},{"p":"b2","s":"fw","e":199,"v":0.833},
{"p":"b2","s":"st","e":0,"v":0.02},{"p":"b2","s":"st","e":2,"v":0.05},{"p":"b2","s":"st","e":4.5,"v":0.25},{"p":"b2","s":"st","e":8,"v":0.6},{"p":"b2","s":"st","e":12,"v":0.96},{"p":"b2","s":"st","e":16,"v":1.22},{"p":"b2","s":"st","e":19,"v":1.37},{"p":"b2","s":"st","e":23,"v":1.43},{"p":"b2","s":"st","e":27,"v":1.456},{"p":"b2","s":"st","e":34,"v":1.49},{"p":"b2","s":"st","e":45,"v":1.507},{"p":"b2","s":"st","e":60,"v":1.495},{"p":"b2","s":"st","e":72,"v":1.48},{"p":"b2","s":"st","e":90,"v":1.473},{"p":"b2","s":"st","e":109,"v":1.456},{"p":"b2","s":"st","e":120,"v":1.435},{"p":"b2","s":"st","e":128,"v":1.42},{"p":"b2","s":"st","e":146,"v":1.41},{"p":"b2","s":"st","e":165,"v":1.405},{"p":"b2","s":"st","e":180,"v":1.39},{"p":"b2","s":"st","e":199,"v":1.378},

{"p":"b3","s":"b8","e":0,"v":0.0},{"p":"b3","s":"b8","e":10,"v":0.0},{"p":"b3","s":"b8","e":20,"v":0.01},{"p":"b3","s":"b8","e":33,"v":0.044},{"p":"b3","s":"b8","e":42,"v":0.075},{"p":"b3","s":"b8","e":51.5,"v":0.112},{"p":"b3","s":"b8","e":60,"v":0.145},{"p":"b3","s":"b8","e":70,"v":0.18},{"p":"b3","s":"b8","e":80,"v":0.215},{"p":"b3","s":"b8","e":89,"v":0.248},{"p":"b3","s":"b8","e":98,"v":0.27},{"p":"b3","s":"b8","e":107,"v":0.29},{"p":"b3","s":"b8","e":126,"v":0.316},{"p":"b3","s":"b8","e":145,"v":0.34},{"p":"b3","s":"b8","e":163,"v":0.36},{"p":"b3","s":"b8","e":180,"v":0.37},{"p":"b3","s":"b8","e":199,"v":0.378},
{"p":"b3","s":"b7","e":0,"v":0.0},{"p":"b3","s":"b7","e":10,"v":0.0},{"p":"b3","s":"b7","e":20,"v":0.01},{"p":"b3","s":"b7","e":33,"v":0.04},{"p":"b3","s":"b7","e":42,"v":0.07},{"p":"b3","s":"b7","e":51.5,"v":0.095},{"p":"b3","s":"b7","e":60,"v":0.12},{"p":"b3","s":"b7","e":70,"v":0.146},{"p":"b3","s":"b7","e":80,"v":0.16},{"p":"b3","s":"b7","e":89,"v":0.17},{"p":"b3","s":"b7","e":107,"v":0.185},{"p":"b3","s":"b7","e":126,"v":0.197},{"p":"b3","s":"b7","e":145,"v":0.205},{"p":"b3","s":"b7","e":163,"v":0.214},{"p":"b3","s":"b7","e":180,"v":0.214},{"p":"b3","s":"b7","e":199,"v":0.214},
{"p":"b3","s":"b5","e":0,"v":0.0},{"p":"b3","s":"b5","e":4,"v":0.01},{"p":"b3","s":"b5","e":7,"v":0.04},{"p":"b3","s":"b5","e":10,"v":0.12},{"p":"b3","s":"b5","e":14,"v":0.23},{"p":"b3","s":"b5","e":18,"v":0.33},{"p":"b3","s":"b5","e":21.6,"v":0.4},{"p":"b3","s":"b5","e":25,"v":0.44},{"p":"b3","s":"b5","e":29,"v":0.46},{"p":"b3","s":"b5","e":40,"v":0.478},{"p":"b3","s":"b5","e":60,"v":0.48},{"p":"b3","s":"b5","e":89,"v":0.48},{"p":"b3","s":"b5","e":126,"v":0.47},{"p":"b3","s":"b5","e":160,"v":0.46},{"p":"b3","s":"b5","e":199,"v":0.446},
{"p":"b3","s":"en","e":0,"v":0.0},{"p":"b3","s":"en","e":7,"v":0.04},{"p":"b3","s":"en","e":10,"v":0.1},{"p":"b3","s":"en","e":14,"v":0.2},{"p":"b3","s":"en","e":18,"v":0.32},{"p":"b3","s":"en","e":22,"v":0.4},{"p":"b3","s":"en","e":27,"v":0.42},{"p":"b3","s":"en","e":33,"v":0.42},{"p":"b3","s":"en","e":42,"v":0.4},{"p":"b3","s":"en","e":51.5,"v":0.384},{"p":"b3","s":"en","e":60,"v":0.39},{"p":"b3","s":"en","e":70,"v":0.42},{"p":"b3","s":"en","e":80,"v":0.45},{"p":"b3","s":"en","e":89,"v":0.47},{"p":"b3","s":"en","e":98,"v":0.5},{"p":"b3","s":"en","e":107,"v":0.52},{"p":"b3","s":"en","e":115,"v":0.55},{"p":"b3","s":"en","e":126,"v":0.59},{"p":"b3","s":"en","e":132,"v":0.57},{"p":"b3","s":"en","e":138,"v":0.63},{"p":"b3","s":"en","e":145,"v":0.64},{"p":"b3","s":"en","e":150,"v":0.6},{"p":"b3","s":"en","e":155,"v":0.68},{"p":"b3","s":"en","e":160,"v":0.66},{"p":"b3","s":"en","e":163,"v":0.76},{"p":"b3","s":"en","e":167,"v":0.65},{"p":"b3","s":"en","e":170,"v":0.82},{"p":"b3","s":"en","e":174,"v":0.68},{"p":"b3","s":"en","e":178,"v":0.73},{"p":"b3","s":"en","e":182,"v":0.71},{"p":"b3","s":"en","e":186,"v":0.74},{"p":"b3","s":"en","e":190,"v":0.66},{"p":"b3","s":"en","e":194,"v":0.69},{"p":"b3","s":"en","e":199,"v":0.656},
{"p":"b3","s":"fw","e":0,"v":0.0},{"p":"b3","s":"fw","e":7,"v":0.01},{"p":"b3","s":"fw","e":14,"v":0.08},{"p":"b3","s":"fw","e":20,"v":0.14},{"p":"b3","s":"fw","e":26,"v":0.2},{"p":"b3","s":"fw","e":33,"v":0.265},{"p":"b3","s":"fw","e":42,"v":0.345},{"p":"b3","s":"fw","e":51.5,"v":0.418},{"p":"b3","s":"fw","e":60,"v":0.47},{"p":"b3","s":"fw","e":70,"v":0.52},{"p":"b3","s":"fw","e":80,"v":0.555},{"p":"b3","s":"fw","e":89,"v":0.588},{"p":"b3","s":"fw","e":105,"v":0.63},{"p":"b3","s":"fw","e":126,"v":0.673},{"p":"b3","s":"fw","e":145,"v":0.7},{"p":"b3","s":"fw","e":163,"v":0.724},{"p":"b3","s":"fw","e":180,"v":0.745},{"p":"b3","s":"fw","e":199,"v":0.765},
{"p":"b3","s":"st","e":0,"v":0.0},{"p":"b3","s":"st","e":4,"v":0.01},{"p":"b3","s":"st","e":7,"v":0.044},{"p":"b3","s":"st","e":10,"v":0.13},{"p":"b3","s":"st","e":14,"v":0.25},{"p":"b3","s":"st","e":18,"v":0.35},{"p":"b3","s":"st","e":21.6,"v":0.42},{"p":"b3","s":"st","e":25,"v":0.45},{"p":"b3","s":"st","e":29,"v":0.47},{"p":"b3","s":"st","e":35,"v":0.495},{"p":"b3","s":"st","e":40,"v":0.51},{"p":"b3","s":"st","e":51.5,"v":0.527},{"p":"b3","s":"st","e":70,"v":0.534},{"p":"b3","s":"st","e":100,"v":0.532},{"p":"b3","s":"st","e":126,"v":0.53},{"p":"b3","s":"st","e":140,"v":0.525},{"p":"b3","s":"st","e":163,"v":0.535},{"p":"b3","s":"st","e":180,"v":0.54},{"p":"b3","s":"st","e":199,"v":0.544},

{"p":"b4","s":"b8","e":0,"v":0.0},{"p":"b4","s":"b8","e":20,"v":0.005},{"p":"b4","s":"b8","e":42,"v":0.03},{"p":"b4","s":"b8","e":60,"v":0.05},{"p":"b4","s":"b8","e":80,"v":0.08},{"p":"b4","s":"b8","e":98,"v":0.12},{"p":"b4","s":"b8","e":117,"v":0.15},{"p":"b4","s":"b8","e":136,"v":0.177},{"p":"b4","s":"b8","e":154,"v":0.2},{"p":"b4","s":"b8","e":173,"v":0.224},{"p":"b4","s":"b8","e":186,"v":0.245},{"p":"b4","s":"b8","e":199,"v":0.265},
{"p":"b4","s":"b7","e":0,"v":0.0},{"p":"b4","s":"b7","e":20,"v":0.005},{"p":"b4","s":"b7","e":42,"v":0.025},{"p":"b4","s":"b7","e":60,"v":0.04},{"p":"b4","s":"b7","e":80,"v":0.065},{"p":"b4","s":"b7","e":98,"v":0.088},{"p":"b4","s":"b7","e":117,"v":0.103},{"p":"b4","s":"b7","e":136,"v":0.116},{"p":"b4","s":"b7","e":154,"v":0.125},{"p":"b4","s":"b7","e":173,"v":0.133},{"p":"b4","s":"b7","e":199,"v":0.146},
{"p":"b4","s":"b5","e":0,"v":0.0},{"p":"b4","s":"b5","e":6,"v":0.01},{"p":"b4","s":"b5","e":12,"v":0.045},{"p":"b4","s":"b5","e":18,"v":0.085},{"p":"b4","s":"b5","e":23.5,"v":0.11},{"p":"b4","s":"b5","e":29,"v":0.13},{"p":"b4","s":"b5","e":35,"v":0.14},{"p":"b4","s":"b5","e":50,"v":0.145},{"p":"b4","s":"b5","e":75,"v":0.148},{"p":"b4","s":"b5","e":98,"v":0.15},{"p":"b4","s":"b5","e":130,"v":0.152},{"p":"b4","s":"b5","e":160,"v":0.155},{"p":"b4","s":"b5","e":199,"v":0.158},
{"p":"b4","s":"en","e":0,"v":0.0},{"p":"b4","s":"en","e":12,"v":0.04},{"p":"b4","s":"en","e":23.5,"v":0.1},{"p":"b4","s":"en","e":35,"v":0.14},{"p":"b4","s":"en","e":50,"v":0.15},{"p":"b4","s":"en","e":65,"v":0.16},{"p":"b4","s":"en","e":80,"v":0.2},{"p":"b4","s":"en","e":98,"v":0.235},{"p":"b4","s":"en","e":107,"v":0.25},{"p":"b4","s":"en","e":117,"v":0.286},{"p":"b4","s":"en","e":125,"v":0.3},{"p":"b4","s":"en","e":130,"v":0.33},{"p":"b4","s":"en","e":136,"v":0.354},{"p":"b4","s":"en","e":142,"v":0.32},{"p":"b4","s":"en","e":148,"v":0.36},{"p":"b4","s":"en","e":154,"v":0.38},{"p":"b4","s":"en","e":158,"v":0.4},{"p":"b4","s":"en","e":162,"v":0.59},{"p":"b4","s":"en","e":165,"v":0.405},{"p":"b4","s":"en","e":170,"v":0.39},{"p":"b4","s":"en","e":174,"v":0.456},{"p":"b4","s":"en","e":178,"v":0.42},{"p":"b4","s":"en","e":182,"v":0.44},{"p":"b4","s":"en","e":186,"v":0.39},{"p":"b4","s":"en","e":190,"v":0.43},{"p":"b4","s":"en","e":194,"v":0.38},{"p":"b4","s":"en","e":199,"v":0.42},
{"p":"b4","s":"fw","e":0,"v":0.0},{"p":"b4","s":"fw","e":10,"v":0.005},{"p":"b4","s":"fw","e":23.5,"v":0.03},{"p":"b4","s":"fw","e":35,"v":0.1},{"p":"b4","s":"fw","e":50,"v":0.184},{"p":"b4","s":"fw","e":65,"v":0.3},{"p":"b4","s":"fw","e":80,"v":0.405},{"p":"b4","s":"fw","e":98,"v":0.49},{"p":"b4","s":"fw","e":117,"v":0.558},{"p":"b4","s":"fw","e":136,"v":0.626},{"p":"b4","s":"fw","e":154,"v":0.677},{"p":"b4","s":"fw","e":173,"v":0.71},{"p":"b4","s":"fw","e":186,"v":0.73},{"p":"b4","s":"fw","e":199,"v":0.75},
{"p":"b4","s":"st","e":0,"v":0.0},{"p":"b4","s":"st","e":6,"v":0.01},{"p":"b4","s":"st","e":12,"v":0.048},{"p":"b4","s":"st","e":18,"v":0.09},{"p":"b4","s":"st","e":23.5,"v":0.116},{"p":"b4","s":"st","e":29,"v":0.14},{"p":"b4","s":"st","e":35,"v":0.15},{"p":"b4","s":"st","e":50,"v":0.156},{"p":"b4","s":"st","e":75,"v":0.16},{"p":"b4","s":"st","e":98,"v":0.163},{"p":"b4","s":"st","e":130,"v":0.166},{"p":"b4","s":"st","e":160,"v":0.17},{"p":"b4","s":"st","e":199,"v":0.173},

{"p":"b5","s":"b8","e":0,"v":0.0},{"p":"b5","s":"b8","e":30,"v":0.005},{"p":"b5","s":"b8","e":60,"v":0.024},{"p":"b5","s":"b8","e":80,"v":0.045},{"p":"b5","s":"b8","e":97,"v":0.065},{"p":"b5","s":"b8","e":115,"v":0.085},{"p":"b5","s":"b8","e":134,"v":0.105},{"p":"b5","s":"b8","e":153,"v":0.125},{"p":"b5","s":"b8","e":171,"v":0.143},{"p":"b5","s":"b8","e":186,"v":0.155},{"p":"b5","s":"b8","e":199,"v":0.167},
{"p":"b5","s":"b7","e":0,"v":0.0},{"p":"b5","s":"b7","e":40,"v":0.005},{"p":"b5","s":"b7","e":70,"v":0.015},{"p":"b5","s":"b7","e":97,"v":0.03},{"p":"b5","s":"b7","e":115,"v":0.038},{"p":"b5","s":"b7","e":134,"v":0.048},{"p":"b5","s":"b7","e":153,"v":0.056},{"p":"b5","s":"b7","e":171,"v":0.065},{"p":"b5","s":"b7","e":186,"v":0.07},{"p":"b5","s":"b7","e":199,"v":0.075},
{"p":"b5","s":"b5","e":0,"v":0.0},{"p":"b5","s":"b5","e":8,"v":0.008},{"p":"b5","s":"b5","e":15,"v":0.025},{"p":"b5","s":"b5","e":22,"v":0.04},{"p":"b5","s":"b5","e":30,"v":0.048},{"p":"b5","s":"b5","e":41,"v":0.053},{"p":"b5","s":"b5","e":70,"v":0.058},{"p":"b5","s":"b5","e":97,"v":0.06},{"p":"b5","s":"b5","e":130,"v":0.062},{"p":"b5","s":"b5","e":160,"v":0.064},{"p":"b5","s":"b5","e":199,"v":0.065},
{"p":"b5","s":"en","e":0,"v":0.0},{"p":"b5","s":"en","e":15,"v":0.01},{"p":"b5","s":"en","e":30,"v":0.02},{"p":"b5","s":"en","e":50,"v":0.03},{"p":"b5","s":"en","e":70,"v":0.05},{"p":"b5","s":"en","e":97,"v":0.08},{"p":"b5","s":"en","e":115,"v":0.1},{"p":"b5","s":"en","e":134,"v":0.13},{"p":"b5","s":"en","e":145,"v":0.15},{"p":"b5","s":"en","e":153,"v":0.167},{"p":"b5","s":"en","e":160,"v":0.18},{"p":"b5","s":"en","e":165,"v":0.16},{"p":"b5","s":"en","e":171,"v":0.2},{"p":"b5","s":"en","e":176,"v":0.19},{"p":"b5","s":"en","e":180,"v":0.23},{"p":"b5","s":"en","e":185,"v":0.2},{"p":"b5","s":"en","e":190,"v":0.22},{"p":"b5","s":"en","e":195,"v":0.19},{"p":"b5","s":"en","e":199,"v":0.2},
{"p":"b5","s":"fw","e":0,"v":0.0},{"p":"b5","s":"fw","e":20,"v":0.01},{"p":"b5","s":"fw","e":41,"v":0.05},{"p":"b5","s":"fw","e":50,"v":0.08},{"p":"b5","s":"fw","e":60,"v":0.116},{"p":"b5","s":"fw","e":70,"v":0.17},{"p":"b5","s":"fw","e":78,"v":0.218},{"p":"b5","s":"fw","e":88,"v":0.26},{"p":"b5","s":"fw","e":97,"v":0.3},{"p":"b5","s":"fw","e":115,"v":0.37},{"p":"b5","s":"fw","e":134,"v":0.44},{"p":"b5","s":"fw","e":153,"v":0.507},{"p":"b5","s":"fw","e":171,"v":0.558},{"p":"b5","s":"fw","e":186,"v":0.595},{"p":"b5","s":"fw","e":199,"v":0.626},
{"p":"b5","s":"st","e":0,"v":0.0},{"p":"b5","s":"st","e":8,"v":0.01},{"p":"b5","s":"st","e":15,"v":0.03},{"p":"b5","s":"st","e":22,"v":0.048},{"p":"b5","s":"st","e":30,"v":0.053},{"p":"b5","s":"st","e":41,"v":0.058},{"p":"b5","s":"st","e":70,"v":0.065},{"p":"b5","s":"st","e":97,"v":0.07},{"p":"b5","s":"st","e":130,"v":0.073},{"p":"b5","s":"st","e":160,"v":0.074},{"p":"b5","s":"st","e":199,"v":0.075}
]},
"data":{"name":"d"},
"spacing":9,
"resolve":{"legend":{"color":"independent","strokeDash":"independent"}},
"vconcat":[
{"spacing":26,"bounds":"flush","resolve":{"legend":{"color":"independent","strokeDash":"independent"}},"hconcat":[
{"title":"degree=1","width":195,"height":175,"transform":[{"filter":"datum.p=='a1'"}],
 "encoding":{"x":{"field":"e","type":"quantitative","scale":{"domain":[-9.95,208.95],"nice":false,"zero":false},"axis":{"values":[0,100,200],"labels":false,"title":null}},
  "y":{"field":"v","type":"quantitative","scale":{"domain":[-0.047,1.133],"nice":false,"zero":false},"axis":{"values":[0,0.2,0.4,0.6,0.8,1.0],"format":".1f","title":"Spectral Approximation Error"}},
  "color":{"field":"s","type":"nominal","scale":{"domain":["b8","b7","b5","en","fw","st"],"range":["#2e1a40","#b51a5e","#e8333f","#f7a6d9","#56b4e9","#0072b2"]},"legend":null}},
 "layer":[{"mark":{"type":"line","strokeWidth":7,"opacity":0.18,"interpolate":"monotone","clip":true}},
  {"mark":{"type":"line","interpolate":"monotone","clip":true},"encoding":{"strokeDash":{"field":"s","type":"nominal","scale":{"domain":["b8","b7","b5","en","fw","st"],"range":[[7,2.5,1.5,2.5],[4,1.5,1.5,1.5],[1.6,1.6],[4,2,1.5,2,1.5,2],[5.5,2.5],[1,0]]},"legend":null},"strokeWidth":{"condition":[{"test":"datum.s=='st'||datum.s=='b8'","value":2.5},{"test":"datum.s=='b5'","value":2.2}],"value":1.9}}}]},
{"title":"degree=2","width":195,"height":175,"transform":[{"filter":"datum.p=='a2'"}],
 "encoding":{"x":{"field":"e","type":"quantitative","scale":{"domain":[-9.95,208.95],"nice":false,"zero":false},"axis":{"values":[0,100,200],"labels":false,"title":null}},
  "y":{"field":"v","type":"quantitative","scale":{"domain":[-0.047,1.133],"nice":false,"zero":false},"axis":{"values":[0,0.2,0.4,0.6,0.8,1.0],"labels":false,"title":null}},
  "color":{"field":"s","type":"nominal","scale":{"domain":["b8","b7","b5","en","fw","st"],"range":["#2e1a40","#b51a5e","#e8333f","#f7a6d9","#56b4e9","#0072b2"]},"legend":null}},
 "layer":[{"mark":{"type":"line","strokeWidth":7,"opacity":0.18,"interpolate":"monotone","clip":true}},
  {"mark":{"type":"line","interpolate":"monotone","clip":true},"encoding":{"strokeDash":{"field":"s","type":"nominal","scale":{"domain":["b8","b7","b5","en","fw","st"],"range":[[7,2.5,1.5,2.5],[4,1.5,1.5,1.5],[1.6,1.6],[4,2,1.5,2,1.5,2],[5.5,2.5],[1,0]]},"legend":null},"strokeWidth":{"condition":[{"test":"datum.s=='st'||datum.s=='b8'","value":2.5},{"test":"datum.s=='b5'","value":2.2}],"value":1.9}}}]},
{"title":"degree=3","width":195,"height":175,"transform":[{"filter":"datum.p=='a3'"}],
 "encoding":{"x":{"field":"e","type":"quantitative","scale":{"domain":[-9.95,208.95],"nice":false,"zero":false},"axis":{"values":[0,100,200],"labels":false,"title":null}},
  "y":{"field":"v","type":"quantitative","scale":{"domain":[-0.047,1.133],"nice":false,"zero":false},"axis":{"values":[0,0.2,0.4,0.6,0.8,1.0],"labels":false,"title":null}},
  "color":{"field":"s","type":"nominal","scale":{"domain":["b8","b7","b5","en","fw","st"],"range":["#2e1a40","#b51a5e","#e8333f","#f7a6d9","#56b4e9","#0072b2"]},"legend":null}},
 "layer":[{"mark":{"type":"line","strokeWidth":7,"opacity":0.18,"interpolate":"monotone","clip":true}},
  {"mark":{"type":"line","interpolate":"monotone","clip":true},"encoding":{"strokeDash":{"field":"s","type":"nominal","scale":{"domain":["b8","b7","b5","en","fw","st"],"range":[[7,2.5,1.5,2.5],[4,1.5,1.5,1.5],[1.6,1.6],[4,2,1.5,2,1.5,2],[5.5,2.5],[1,0]]},"legend":null},"strokeWidth":{"condition":[{"test":"datum.s=='st'||datum.s=='b8'","value":2.5},{"test":"datum.s=='b5'","value":2.2}],"value":1.9}}}]},
{"title":"degree=4","width":195,"height":175,"transform":[{"filter":"datum.p=='a4'"}],
 "encoding":{"x":{"field":"e","type":"quantitative","scale":{"domain":[-9.95,208.95],"nice":false,"zero":false},"axis":{"values":[0,100,200],"labels":false,"title":null}},
  "y":{"field":"v","type":"quantitative","scale":{"domain":[-0.047,1.133],"nice":false,"zero":false},"axis":{"values":[0,0.2,0.4,0.6,0.8,1.0],"labels":false,"title":null}},
  "color":{"field":"s","type":"nominal","scale":{"domain":["b8","b7","b5","en","fw","st"],"range":["#2e1a40","#b51a5e","#e8333f","#f7a6d9","#56b4e9","#0072b2"]},"legend":null}},
 "layer":[{"mark":{"type":"line","strokeWidth":7,"opacity":0.18,"interpolate":"monotone","clip":true}},
  {"mark":{"type":"line","interpolate":"monotone","clip":true},"encoding":{"strokeDash":{"field":"s","type":"nominal","scale":{"domain":["b8","b7","b5","en","fw","st"],"range":[[7,2.5,1.5,2.5],[4,1.5,1.5,1.5],[1.6,1.6],[4,2,1.5,2,1.5,2],[5.5,2.5],[1,0]]},"legend":null},"strokeWidth":{"condition":[{"test":"datum.s=='st'||datum.s=='b8'","value":2.5},{"test":"datum.s=='b5'","value":2.2}],"value":1.9}}}]},
{"title":"degree=5","width":195,"height":175,"transform":[{"filter":"datum.p=='a5'"}],
 "encoding":{"x":{"field":"e","type":"quantitative","scale":{"domain":[-9.95,208.95],"nice":false,"zero":false},"axis":{"values":[0,100,200],"labels":false,"title":null}},
  "y":{"field":"v","type":"quantitative","scale":{"domain":[-0.047,1.133],"nice":false,"zero":false},"axis":{"values":[0,0.2,0.4,0.6,0.8,1.0],"labels":false,"title":null}},
  "color":{"field":"s","type":"nominal","scale":{"domain":["b8","b7","b5","en","fw","st"],"range":["#2e1a40","#b51a5e","#e8333f","#f7a6d9","#56b4e9","#0072b2"]},"legend":null}},
 "layer":[{"mark":{"type":"line","strokeWidth":7,"opacity":0.18,"interpolate":"monotone","clip":true}},
  {"mark":{"type":"line","interpolate":"monotone","clip":true},"encoding":{"strokeDash":{"field":"s","type":"nominal","scale":{"domain":["b8","b7","b5","en","fw","st"],"range":[[7,2.5,1.5,2.5],[4,1.5,1.5,1.5],[1.6,1.6],[4,2,1.5,2,1.5,2],[5.5,2.5],[1,0]]},"legend":null},"strokeWidth":{"condition":[{"test":"datum.s=='st'||datum.s=='b8'","value":2.5},{"test":"datum.s=='b5'","value":2.2}],"value":1.9}}}]}
]},
{"spacing":26,"bounds":"flush","resolve":{"legend":{"color":"independent","strokeDash":"independent"}},"hconcat":[
{"width":195,"height":173,"transform":[{"filter":"datum.p=='b1'"}],
 "encoding":{"x":{"field":"e","type":"quantitative","scale":{"domain":[-9.95,208.95],"nice":false,"zero":false},"axis":{"values":[0,100,200],"title":null}},
  "y":{"field":"v","type":"quantitative","scale":{"domain":[-0.08,1.69],"nice":false,"zero":false},"axis":{"values":[0,0.5,1.0,1.5],"format":".1f","title":"Energy"}},
  "color":{"field":"s","type":"nominal","scale":{"domain":["b8","b7","b5","en","fw","st"],"range":["#2e1a40","#b51a5e","#e8333f","#f7a6d9","#56b4e9","#0072b2"]},"legend":null}},
 "layer":[{"mark":{"type":"line","strokeWidth":7,"opacity":0.18,"interpolate":"monotone","clip":true}},
  {"mark":{"type":"line","interpolate":"monotone","clip":true},"encoding":{"strokeDash":{"field":"s","type":"nominal","scale":{"domain":["b8","b7","b5","en","fw","st"],"range":[[7,2.5,1.5,2.5],[4,1.5,1.5,1.5],[1.6,1.6],[4,2,1.5,2,1.5,2],[5.5,2.5],[1,0]]},"legend":null},"strokeWidth":{"condition":[{"test":"datum.s=='st'||datum.s=='b8'","value":2.5},{"test":"datum.s=='b5'","value":2.2}],"value":1.9}}}]},
{"width":195,"height":173,"transform":[{"filter":"datum.p=='b2'"}],
 "encoding":{"x":{"field":"e","type":"quantitative","scale":{"domain":[-9.95,208.95],"nice":false,"zero":false},"axis":{"values":[0,100,200],"title":null}},
  "y":{"field":"v","type":"quantitative","scale":{"domain":[-0.08,1.69],"nice":false,"zero":false},"axis":{"values":[0,0.5,1.0,1.5],"labels":false,"title":null}},
  "color":{"field":"s","type":"nominal","scale":{"domain":["b8","b7","b5","en","fw","st"],"range":["#2e1a40","#b51a5e","#e8333f","#f7a6d9","#56b4e9","#0072b2"]},"legend":null}},
 "layer":[{"mark":{"type":"line","strokeWidth":7,"opacity":0.18,"interpolate":"monotone","clip":true}},
  {"mark":{"type":"line","interpolate":"monotone","clip":true},"encoding":{"strokeDash":{"field":"s","type":"nominal","scale":{"domain":["b8","b7","b5","en","fw","st"],"range":[[7,2.5,1.5,2.5],[4,1.5,1.5,1.5],[1.6,1.6],[4,2,1.5,2,1.5,2],[5.5,2.5],[1,0]]},"legend":null},"strokeWidth":{"condition":[{"test":"datum.s=='st'||datum.s=='b8'","value":2.5},{"test":"datum.s=='b5'","value":2.2}],"value":1.9}}}]},
{"width":195,"height":173,"transform":[{"filter":"datum.p=='b3'"}],
 "encoding":{"x":{"field":"e","type":"quantitative","scale":{"domain":[-9.95,208.95],"nice":false,"zero":false},"axis":{"values":[0,100,200],"title":null}},
  "y":{"field":"v","type":"quantitative","scale":{"domain":[-0.08,1.69],"nice":false,"zero":false},"axis":{"values":[0,0.5,1.0,1.5],"labels":false,"title":null}},
  "color":{"field":"s","type":"nominal","scale":{"domain":["b8","b7","b5","en","fw","st"],"range":["#2e1a40","#b51a5e","#e8333f","#f7a6d9","#56b4e9","#0072b2"]},"legend":null}},
 "layer":[{"mark":{"type":"line","strokeWidth":7,"opacity":0.18,"interpolate":"monotone","clip":true}},
  {"mark":{"type":"line","interpolate":"monotone","clip":true},"encoding":{"strokeDash":{"field":"s","type":"nominal","scale":{"domain":["b8","b7","b5","en","fw","st"],"range":[[7,2.5,1.5,2.5],[4,1.5,1.5,1.5],[1.6,1.6],[4,2,1.5,2,1.5,2],[5.5,2.5],[1,0]]},"legend":null},"strokeWidth":{"condition":[{"test":"datum.s=='st'||datum.s=='b8'","value":2.5},{"test":"datum.s=='b5'","value":2.2}],"value":1.9}}}]},
{"width":195,"height":173,"transform":[{"filter":"datum.p=='b4'"}],
 "encoding":{"x":{"field":"e","type":"quantitative","scale":{"domain":[-9.95,208.95],"nice":false,"zero":false},"axis":{"values":[0,100,200],"title":null}},
  "y":{"field":"v","type":"quantitative","scale":{"domain":[-0.08,1.69],"nice":false,"zero":false},"axis":{"values":[0,0.5,1.0,1.5],"labels":false,"title":null}},
  "color":{"field":"s","type":"nominal","scale":{"domain":["b8","b7","b5","en","fw","st"],"range":["#2e1a40","#b51a5e","#e8333f","#f7a6d9","#56b4e9","#0072b2"]},"legend":null}},
 "layer":[{"mark":{"type":"line","strokeWidth":7,"opacity":0.18,"interpolate":"monotone","clip":true}},
  {"mark":{"type":"line","interpolate":"monotone","clip":true},"encoding":{"strokeDash":{"field":"s","type":"nominal","scale":{"domain":["b8","b7","b5","en","fw","st"],"range":[[7,2.5,1.5,2.5],[4,1.5,1.5,1.5],[1.6,1.6],[4,2,1.5,2,1.5,2],[5.5,2.5],[1,0]]},"legend":null},"strokeWidth":{"condition":[{"test":"datum.s=='st'||datum.s=='b8'","value":2.5},{"test":"datum.s=='b5'","value":2.2}],"value":1.9}}}]},
{"width":195,"height":173,"transform":[{"filter":"datum.p=='b5'"}],
 "encoding":{"x":{"field":"e","type":"quantitative","scale":{"domain":[-9.95,208.95],"nice":false,"zero":false},"axis":{"values":[0,100,200],"title":null}},
  "y":{"field":"v","type":"quantitative","scale":{"domain":[-0.08,1.69],"nice":false,"zero":false},"axis":{"values":[0,0.5,1.0,1.5],"labels":false,"title":null}},
  "color":{"field":"s","type":"nominal","scale":{"domain":["b8","b7","b5","en","fw","st"],"range":["#2e1a40","#b51a5e","#e8333f","#f7a6d9","#56b4e9","#0072b2"]},
   "legend":{"orient":"top-left","offset":7,"title":null,"symbolType":"M-1.65,0L1.65,0","symbolSize":256,"symbolStrokeWidth":2,"symbolOpacity":1,"labelFontSize":13,"labelOffset":17,"rowPadding":3.7,"strokeColor":"#cccccc","fillColor":"white","padding":6,"cornerRadius":3,
    "labelExpr":"{'b8':'HashWH (b=8)','b7':'HashWH (b=7)','b5':'HashWH (b=5)','en':'EN-S','fw':'FullWH (intr.)','st':'standard'}[datum.label]"}}},
 "layer":[{"mark":{"type":"line","strokeWidth":7,"opacity":0.18,"interpolate":"monotone","clip":true}},
  {"mark":{"type":"line","interpolate":"monotone","clip":true},"encoding":{"strokeDash":{"field":"s","type":"nominal","scale":{"domain":["b8","b7","b5","en","fw","st"],"range":[[7,2.5,1.5,2.5],[4,1.5,1.5,1.5],[1.6,1.6],[4,2,1.5,2,1.5,2],[5.5,2.5],[1,0]]}},"strokeWidth":{"condition":[{"test":"datum.s=='st'||datum.s=='b8'","value":2.5},{"test":"datum.s=='b5'","value":2.2}],"value":1.9}}}]}
]}
],
"config":{
 "font":"DejaVu Sans",
 "view":{"stroke":"#222","strokeWidth":1},
 "axis":{"domain":false,"grid":false,"tickColor":"#222","tickSize":4,"labelFontSize":12.5,"labelColor":"#222","labelFont":"DejaVu Sans","titleFontSize":12.5,"titleFontWeight":"normal","titleColor":"#222","titleFont":"DejaVu Sans","labelPadding":3,"titlePadding":13},
 "title":{"fontSize":15.5,"fontWeight":"normal","color":"#222","font":"DejaVu Sans","offset":5},
 "legend":{"labelFont":"DejaVu Sans","labelColor":"#222"}
}
}
